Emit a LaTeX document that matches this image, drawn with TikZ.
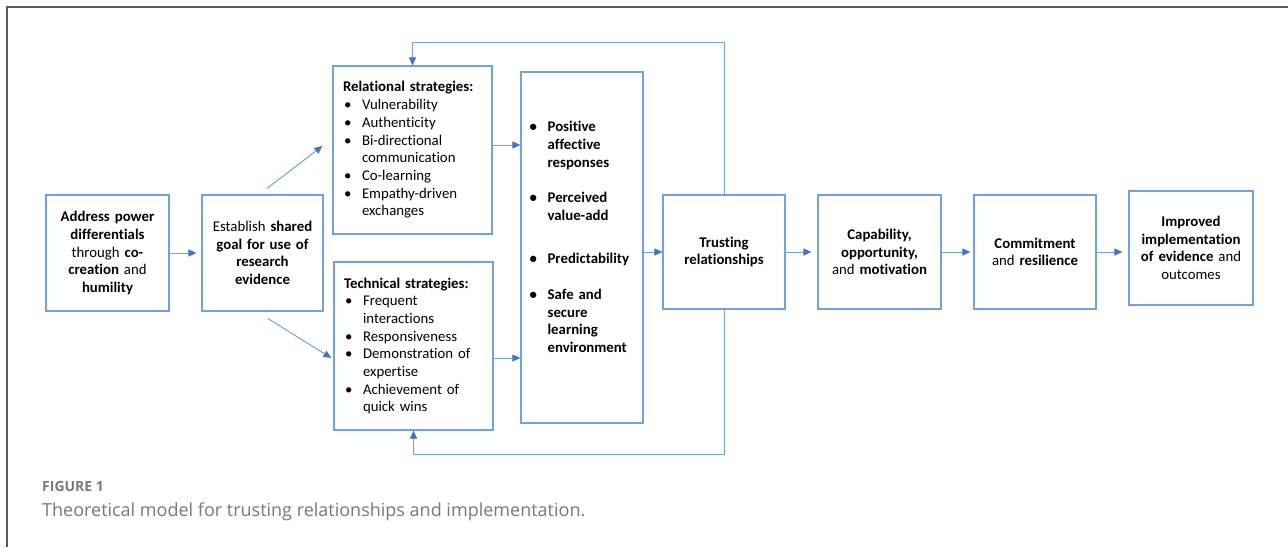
\documentclass[tikz,border=0pt]{standalone}
\usepackage{fontspec}
\setmainfont{Carlito}[Ligatures=NoCommon]
\newfontfamily\capfont{Open Sans}
\usetikzlibrary{arrows.meta,calc}

\definecolor{boxblue}{RGB}{112,162,222}
\definecolor{tipblue}{RGB}{68,114,196}
\definecolor{capgray}{RGB}{120,120,120}
\definecolor{framegray}{RGB}{90,90,90}

\newcommand{\bul}{\makebox[19pt][l]{\hspace{1pt}\textbullet}}
\newcommand{\cont}{\hspace*{19pt}}

\begin{document}
\begin{tikzpicture}[
  x=1pt, y=-1pt,
  every node/.style={font=\fontsize{14.8}{17.7}\selectfont, inner sep=0pt},
  box/.style={draw=boxblue, line width=1.2pt, align=center},
  listbox/.style={box, align=left, text width=139pt, minimum width=159pt, minimum height=168pt},
  stagebox/.style={box, text width=114pt, minimum width=122pt, minimum height=114pt},
  link/.style={draw=boxblue, line width=1pt, -{Triangle[length=8pt, width=7pt, color=tipblue]}},
  caption/.style={anchor=base west, text=capgray}
]

\fill[white] (0,0) rectangle (1288,547);
\useasboundingbox (0,0) rectangle (1288,547);
\draw[framegray, line width=1.2pt] (7,547) -- (7,7) -- (1288,7);

\node[box, text width=112pt, minimum width=123pt, minimum height=116pt] (power) at (107.5,253)
  {\textbf{Address power}\\ \textbf{differentials}\\ through \textbf{co-}\\ \textbf{creation} and\\ \textbf{humility}};
\node[box, text width=112pt, minimum width=121pt, minimum height=116pt] (goal) at (262.5,253)
  {Establish \textbf{shared}\\ \textbf{goal for use of}\\ \textbf{research}\\ \textbf{evidence}};

\node[listbox] (relational) at (412.5,150)
  {\textbf{Relational strategies:}\\
   \bul Vulnerability\\
   \bul Authenticity\\
   \bul Bi-directional\\
   \cont communication\\
   \bul Co-learning\\
   \bul Empathy-driven\\
   \cont exchanges};
\node[listbox] (technical) at (413.5,346)
  {\textbf{Technical strategies:}\\
   \bul Frequent\\
   \cont interactions\\
   \bul Responsiveness\\
   \bul Demonstration of\\
   \cont expertise\\
   \bul Achievement of\\
   \cont quick wins};

\node[box, minimum width=122pt, minimum height=351pt] (affect) at (582,247.5) {};
\node[anchor=north west, align=left, text width=112pt, font=\fontsize{14.8}{17.7}\selectfont\bfseries]
  (affectlist) at ($(affect.north west)+(8,50)$)
  {\bul Positive\\ \cont affective\\ \cont responses\\[17.7pt]
   \bul Perceived\\ \cont value-add\\[25.8pt]
   \bul Predictability\\[17.7pt]
   \bul Safe and\\ \cont secure\\ \cont learning\\ \cont environment};

\node[stagebox] (trust) at (724,252) {\textbf{Trusting}\\ \textbf{relationships}};
\node[stagebox, minimum width=123pt] (com) at (879.5,252)
  {\textbf{Capability,}\\ \textbf{opportunity,}\\ and \textbf{motivation}};
\node[stagebox] (resil) at (1035,252) {\textbf{Commitment}\\ and \textbf{resilience}};
\node[stagebox, minimum width=124pt] (impl) at (1191,248)
  {\textbf{Improved}\\ \textbf{implementation}\\ \textbf{of evidence} and\\ outcomes};

\draw[link, shorten >=5pt] (power.east) -- (goal.west);
\draw[link] ($(goal.north)+(4.5,-6)$) -- ($(relational.west)+(-10,-4)$);
\draw[link] ($(goal.south)+(5.5,7)$) -- ($(technical.west)+(-2,12)$);
\draw[link] ($(relational.east)+(0,-5)$) coordinate (r1) -- (r1 -| affect.west);
\draw[link] ($(technical.east)+(0,12)$) coordinate (t1) -- (t1 -| affect.west);
\draw[link] (affect.east |- trust.west) -- (trust.west);
\draw[link, shorten >=6pt] (trust.east) -- (com.west);
\draw[link, shorten >=3pt] (com.east) -- (resil.west);
\draw[link, shorten >=6pt] (resil.east) -- (resil.east -| impl.west);

\draw[link] (trust.north) -- ++(0,-152) -| (relational.north);
\draw[link] (trust.south) -- ++(0,145) -| (technical.south);

\node[caption, font=\capfont\fontsize{14}{17}\selectfont\bfseries] (figlabel) at (42,491) {FIGURE 1};
\node[caption, font=\capfont\fontsize{18}{21}\selectfont] (figcaption) at (42,516)
  {Theoretical model for trusting relationships and implementation.};

\end{tikzpicture}
\end{document}
